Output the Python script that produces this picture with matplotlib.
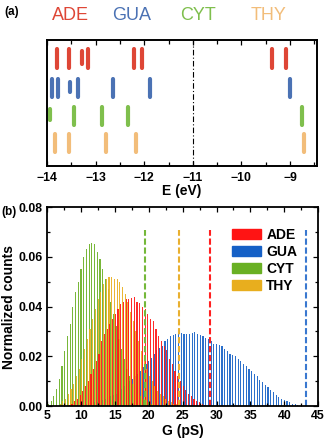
import numpy as np
import matplotlib
matplotlib.use("Agg")
import matplotlib.pyplot as plt
from matplotlib.ticker import MultipleLocator

plt.rcParams["font.family"] = ["Liberation Sans", "DejaVu Sans"]

# ---------------------------------------------------------------------------
# (a) energy levels, eV
# ---------------------------------------------------------------------------
BASES = ["ADE", "GUA", "CYT", "THY"]
ADE_E = [-13.80, -13.54, -13.29, -13.15, -12.22, -12.05, -9.36, -9.08]
ADE_LEN = [1, 1, 0.65, 1, 1, 1, 1, 1]
GUA_E = [-13.90, -13.77, -13.53, -13.36, -12.65, -11.88, -9.00]
GUA_LEN = [1, 1, 0.55, 1, 1, 1, 1]
CYT_E = [-13.95, -13.44, -12.87, -12.33, -8.76]
CYT_LEN = [0.6, 1, 1, 1, 1]
THY_E = [-13.84, -13.54, -12.79, -12.18, -8.71]
THY_LEN = [1, 1, 1, 1, 1]
E_MARK = -11.0

# ---------------------------------------------------------------------------
# (b) conductance histograms, bin 0.4 pS
# ---------------------------------------------------------------------------
BIN = 0.4
CYT_START = 5.2
CYT_H = [0.001, 0.002, 0.004, 0.007, 0.011, 0.016, 0.022, 0.028, 0.033, 0.040,
         0.046, 0.050, 0.055, 0.060, 0.063, 0.065, 0.0655, 0.065, 0.062, 0.059,
         0.055, 0.051, 0.047, 0.042, 0.037, 0.032, 0.027, 0.023, 0.019, 0.015,
         0.012, 0.009, 0.007, 0.005, 0.004, 0.003, 0.002, 0.0015, 0.001]
THY_START = 6.8
THY_H = [0.001, 0.002, 0.003, 0.005, 0.007, 0.009, 0.012, 0.015, 0.019, 0.023,
         0.027, 0.031, 0.035, 0.039, 0.043, 0.046, 0.049, 0.051, 0.052, 0.052,
         0.051, 0.051, 0.050, 0.048, 0.045, 0.042, 0.038, 0.034, 0.030, 0.026,
         0.022, 0.018, 0.015, 0.012, 0.010, 0.008, 0.006, 0.005, 0.004, 0.003,
         0.002, 0.0015, 0.001, 0.001]
ADE_START = 8.0
ADE_H = [0.0005, 0.001, 0.002, 0.003, 0.0045, 0.006, 0.008, 0.010, 0.013, 0.015,
         0.018, 0.021, 0.026, 0.029, 0.031, 0.033, 0.035, 0.037, 0.039, 0.041,
         0.042, 0.043, 0.043, 0.0433, 0.044, 0.042, 0.0415, 0.040, 0.039, 0.037,
         0.035, 0.034, 0.031, 0.028, 0.026, 0.024, 0.0225, 0.019, 0.017, 0.014,
         0.012, 0.010, 0.008, 0.0065, 0.005, 0.004, 0.003, 0.002, 0.0015, 0.001,
         0.0005]
GUA_START = 10.0
GUA_H = [0.0003, 0.0005, 0.0007, 0.001, 0.0012, 0.0015, 0.0018, 0.002, 0.0025, 0.003,
         0.0035, 0.004, 0.0045, 0.005, 0.006, 0.007, 0.008, 0.009, 0.010, 0.011,
         0.012, 0.013, 0.014, 0.0155, 0.017, 0.018, 0.0195, 0.021, 0.0225, 0.0235,
         0.024, 0.026, 0.027, 0.028, 0.0285, 0.029, 0.030, 0.0295, 0.029, 0.0288,
         0.029, 0.0292, 0.0298, 0.029, 0.0285, 0.028, 0.0275, 0.027, 0.026, 0.025,
         0.025, 0.0245, 0.024, 0.023, 0.022, 0.021, 0.0205, 0.020, 0.019, 0.018,
         0.017, 0.016, 0.015, 0.014, 0.013, 0.012, 0.0105, 0.0095, 0.0085, 0.0075,
         0.0065, 0.0055, 0.0045, 0.0035, 0.003, 0.0025, 0.002, 0.0015, 0.001, 0.0007,
         0.0004, 0.0002]
G_MEAN = {"ADE": 29.0, "GUA": 43.2, "CYT": 19.4, "THY": 24.4}

LEVEL_COLORS = {"ADE": "#de4636", "GUA": "#4b72b4", "CYT": "#7fbf4d", "THY": "#f2bd7a"}
HIST_COLORS = {"ADE": "#ff1414", "GUA": "#1560c6", "CYT": "#69b023", "THY": "#e8ae1e"}
DASH_COLORS = {"ADE": "#ff2020", "GUA": "#3a78d0", "CYT": "#74b83a", "THY": "#e9b030"}

fig = plt.figure(figsize=(3.27, 4.42), dpi=100)

# ---------------------------------------------------------------------------
# (a)
# ---------------------------------------------------------------------------
ax1 = fig.add_axes([0.144, 0.624, 0.826, 0.285])
rows = {"ADE": (0.78, 0.93), "GUA": (0.55, 0.69), "CYT": (0.33, 0.47), "THY": (0.115, 0.255)}
levels = {"ADE": (ADE_E, ADE_LEN), "GUA": (GUA_E, GUA_LEN),
          "CYT": (CYT_E, CYT_LEN), "THY": (THY_E, THY_LEN)}
for name in BASES:
    es, lens = levels[name]
    lo, hi = rows[name]
    for e, frac in zip(es, lens):
        pad = (hi - lo) * (1 - frac) / 2
        ax1.plot([e, e], [lo + pad * 1.3, hi - pad * 0.7], color=LEVEL_COLORS[name],
                 lw=3.0, solid_capstyle="round")
ax1.axvline(E_MARK, color="black", lw=0.8, ls=(0, (5, 2, 1, 2)))
ax1.set_xlim(-14, -8.44)
ax1.set_ylim(0, 1)
ax1.set_yticks([])
ax1.xaxis.set_major_locator(MultipleLocator(1))
ax1.xaxis.set_minor_locator(MultipleLocator(0.5))
ax1.tick_params(axis="x", which="both", direction="in", top=True, width=0.9,
                labelsize=8.8, pad=4)
ax1.tick_params(axis="x", which="major", length=3.5)
ax1.tick_params(axis="x", which="minor", length=3)
for lab in ax1.get_xticklabels():
    lab.set_fontweight("bold")
for sp in ax1.spines.values():
    sp.set_linewidth(1.4)
ax1.set_xlabel("E (eV)", fontsize=10, fontweight="bold", labelpad=0)

title_x = {"ADE": 0.217, "GUA": 0.404, "CYT": 0.606, "THY": 0.82}
for name in BASES:
    fig.text(title_x[name], 0.966, name, color=LEVEL_COLORS[name], fontsize=13,
             ha="center", va="center")
fig.text(0.012, 0.972, "(a)", fontsize=8.5, fontweight="bold", va="center")

# ---------------------------------------------------------------------------
# (b)
# ---------------------------------------------------------------------------
ax2 = fig.add_axes([0.144, 0.0814, 0.829, 0.450])
hists = [("GUA", GUA_START, GUA_H, 0.0), ("CYT", CYT_START, CYT_H, 0.0),
         ("THY", THY_START, THY_H, 0.13), ("ADE", ADE_START, ADE_H, 0.27)]
for name, start, h, shift in hists:
    x = start + BIN * np.arange(len(h)) + shift
    ax2.bar(x, h, width=0.17, color=HIST_COLORS[name], linewidth=0, alpha=0.9)

for name in ["CYT", "THY", "ADE", "GUA"]:
    ax2.plot([G_MEAN[name]] * 2, [0, 0.0708], color=DASH_COLORS[name], lw=1.5,
             ls=(0, (3, 1.3)))

ax2.set_xlim(5, 45)
ax2.set_ylim(0, 0.08)
ax2.xaxis.set_major_locator(MultipleLocator(5))
ax2.xaxis.set_minor_locator(MultipleLocator(2.5))
ax2.yaxis.set_major_locator(MultipleLocator(0.02))
ax2.yaxis.set_minor_locator(MultipleLocator(0.01))
ax2.yaxis.set_major_formatter(lambda v, p: f"{v:.2f}")
ax2.tick_params(which="both", direction="in", top=True, right=True, width=0.9,
                labelsize=8.8)
ax2.tick_params(which="major", length=3.5)
ax2.tick_params(which="minor", length=2.5)
ax2.tick_params(axis="y", pad=3)
ax2.tick_params(axis="x", pad=3)
for lab in ax2.get_xticklabels() + ax2.get_yticklabels():
    lab.set_fontweight("bold")
for sp in ax2.spines.values():
    sp.set_linewidth(1.3)
ax2.set_xlabel("G (pS)", fontsize=10, fontweight="bold", labelpad=1)
ax2.set_ylabel("Normalized counts", fontsize=10, fontweight="bold", labelpad=2)

handles = [plt.Rectangle((0, 0), 1, 1, color=HIST_COLORS[n]) for n in BASES]
ax2.legend(handles, BASES, loc="upper left", bbox_to_anchor=(0.683, 0.895),
           frameon=False, borderpad=0, borderaxespad=0, handlelength=2.1,
           handleheight=0.75, handletextpad=0.35, labelspacing=0.22,
           prop={"size": 10, "weight": "bold"})
fig.text(0.003, 0.52, "(b)", fontsize=8.5, fontweight="bold", va="center")

fig.savefig("out.png", dpi=100)
